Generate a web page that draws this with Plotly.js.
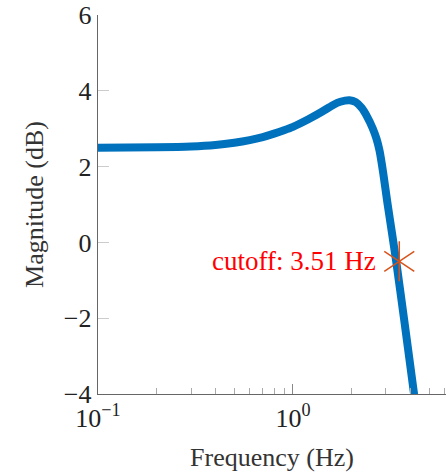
<!DOCTYPE html>
<html>
<head>
<meta charset="utf-8">
<script src="https://cdn.plot.ly/plotly-3.0.1.min.js"></script>
<style>html,body{margin:0;padding:0;background:#fff;}#chart{width:446px;height:474px;}</style>
</head>
<body>
<div id="chart"></div>
<script>
// Frequency response
const freq = [0.1, 0.2, 0.3, 0.4, 0.5, 0.6, 0.7, 0.8, 0.9, 1.0, 1.2, 1.4, 1.6, 1.75, 1.95, 2.1, 2.25, 2.4, 2.56, 2.68, 2.78, 2.9, 3.05, 3.22, 3.385, 3.71, 4.18, 4.52];
const magnitude = [2.50, 2.51, 2.53, 2.57, 2.63, 2.70, 2.78, 2.87, 2.96, 3.05, 3.25, 3.44, 3.62, 3.71, 3.75, 3.70, 3.55, 3.32, 3.02, 2.74, 2.42, 1.85, 1.05, 0.25, -0.50, -2.00, -4.00, -5.30];

// Cutoff marker
const cutoffFreq = [3.51];
const cutoffMag = [-0.5];

// Axis ticks
const xTickVals = [0.1, 1];
const xTickText = ['10<sup>\u22121</sup>', '10<sup>0</sup>'];
const xMinorVals = [0.2, 0.3, 0.4, 0.5, 0.6, 0.7, 0.8, 0.9, 2, 3, 4, 5, 6];
const yTickVals = [-4, -2, 0, 2, 4, 6];

const serif = 'Liberation Serif, Times New Roman, serif';

const traces = [
  {
    x: freq, y: magnitude, type: 'scatter', mode: 'lines',
    line: {color: '#0072bd', width: 8, shape: 'spline', smoothing: 0.6},
    hoverinfo: 'skip', showlegend: false
  },
  {
    x: cutoffFreq, y: cutoffMag, type: 'scatter', mode: 'markers',
    marker: {symbol: 'y-up-open', size: 25, color: '#d95319', line: {color: '#d95319', width: 1.5}},
    showlegend: false, cliponaxis: false
  },
  {
    x: cutoffFreq, y: cutoffMag, type: 'scatter', mode: 'markers',
    marker: {symbol: 'y-down-open', size: 25, color: '#d95319', line: {color: '#d95319', width: 1.5}},
    showlegend: false, cliponaxis: false
  }
];

const layout = {
  width: 446, height: 474,
  margin: {l: 98, r: 0, t: 15, b: 80},
  paper_bgcolor: '#fff', plot_bgcolor: '#fff',
  showlegend: false,
  font: {family: serif, color: '#222'},
  xaxis: {
    type: 'log', range: [-1, 0.785],
    showline: true, linecolor: '#666', linewidth: 1.3, mirror: false,
    showgrid: false, zeroline: false,
    ticks: 'inside', ticklen: 10, tickcolor: '#888', tickwidth: 1,
    tickmode: 'array', tickvals: xTickVals, ticktext: xTickText,
    minor: {tickmode: 'array', tickvals: xMinorVals, ticks: 'inside', ticklen: 6, tickcolor: '#aaa', tickwidth: 1, showgrid: false},
    tickfont: {family: serif, size: 26, color: '#222'},
    title: {text: 'Frequency (Hz)', font: {family: serif, size: 26, color: '#333'}, standoff: 16},
    automargin: false
  },
  yaxis: {
    range: [-4, 6],
    showline: true, linecolor: '#666', linewidth: 1.3,
    showgrid: false, zeroline: false,
    ticks: 'inside', ticklen: 11, tickcolor: '#ccc', tickwidth: 1,
    tickmode: 'array', tickvals: yTickVals,
    tickfont: {family: serif, size: 26, color: '#222'},
    title: {text: 'Magnitude (dB)', font: {family: serif, size: 26, color: '#333'}, standoff: 12},
    automargin: false
  },
  annotations: [{
    x: Math.log10(cutoffFreq[0]), y: cutoffMag[0], xref: 'x', yref: 'y',
    text: 'cutoff: ' + cutoffFreq[0].toFixed(2) + ' Hz',
    showarrow: false, xanchor: 'right', yanchor: 'middle', xshift: -21,
    font: {family: serif, size: 27, color: '#ff0000'}
  }]
};

Plotly.newPlot('chart', traces, layout, {staticPlot: true, displayModeBar: false});
</script>
</body>
</html>
